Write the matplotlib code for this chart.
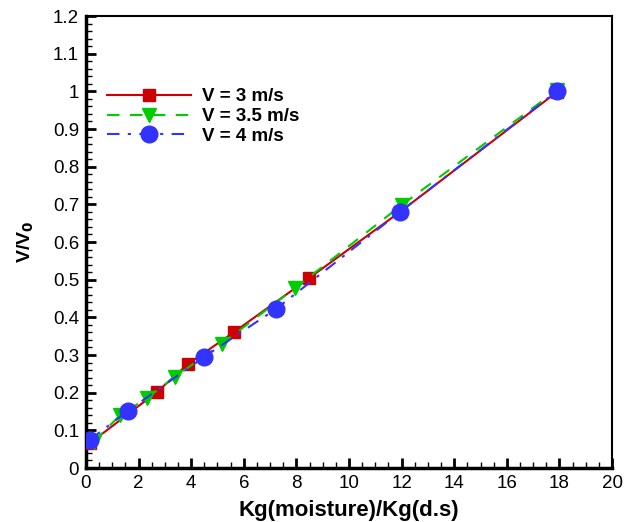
import matplotlib
matplotlib.use("Agg")
import matplotlib.pyplot as plt
from matplotlib.ticker import MultipleLocator

plt.rcParams['font.family'] = ['Liberation Sans', 'DejaVu Sans']

x_v3 = [0.15, 2.7, 3.88, 5.63, 8.48, 11.94, 17.9]
y_v3 = [0.066, 0.202, 0.276, 0.361, 0.504, 0.68, 0.998]

x_v35 = [0.3, 1.29, 2.32, 3.38, 5.17, 7.95, 12.0, 17.9]
y_v35 = [0.07, 0.14, 0.186, 0.242, 0.33, 0.478, 0.698, 1.003]

x_v4 = [0.15, 1.6, 4.49, 7.22, 11.94, 17.9]
y_v4 = [0.075, 0.152, 0.295, 0.422, 0.68, 1.0]

labels = ["V = 3 m/s", "V = 3.5 m/s", "V = 4 m/s"]

fig = plt.figure(figsize=(6.29, 5.22), dpi=100)
ax = fig.add_axes([0.1367, 0.1034, 0.8363, 0.8659])

ax.plot(x_v3, y_v3, '-', color='#cc0000', lw=1.5, marker='s', ms=9,
        mfc='#cc0000', mec='#cc0000', label=labels[0], zorder=3)
ax.plot(x_v35, y_v35, '--', color='#00cc00', lw=1.5, marker='v', ms=9.5,
        mfc='#00cc00', mec='#00cc00', label=labels[1], dashes=(6, 5), zorder=4)
ax.plot(x_v4, y_v4, '-.', color='#3333ff', lw=1.5, marker='o', ms=12,
        mfc='#3333ff', mec='#3333ff', label=labels[2], dashes=(6, 4, 1.5, 4), zorder=5)

ax.set_xlim(0, 20)
ax.set_ylim(0, 1.2)
ax.xaxis.set_major_locator(MultipleLocator(2))
ax.xaxis.set_minor_locator(MultipleLocator(0.5))
ax.yaxis.set_minor_locator(MultipleLocator(0.02))
ax.set_yticks([0, 0.1, 0.2, 0.3, 0.4, 0.5, 0.6, 0.7, 0.8, 0.9, 1.0, 1.1, 1.2])
ax.set_yticklabels(['0', '0.1', '0.2', '0.3', '0.4', '0.5', '0.6', '0.7', '0.8', '0.9', '1', '1.1', '1.2'])

ax.tick_params(which='major', direction='in', length=7, width=2, labelsize=13.5,
               top=False, right=False, pad=5)
ax.tick_params(which='minor', direction='in', length=4, width=1,
               top=False, right=False)
for s in ax.spines.values():
    s.set_linewidth(1.5)
ax.spines['left'].set_linewidth(2.5)
ax.spines['bottom'].set_linewidth(2.5)

ax.set_xlabel('Kg(moisture)/Kg(d.s)', fontsize=16, fontweight='bold', labelpad=6)
ax.set_ylabel('V/V$_\\mathbf{0}$', fontsize=14, fontweight='bold', labelpad=12)

leg = ax.legend(loc='upper left', bbox_to_anchor=(0.008, 0.878), frameon=False,
                prop={'weight': 'bold', 'size': 13.5}, handlelength=4.5,
                handletextpad=0.55, labelspacing=0.15)

fig.savefig('out.png', dpi=100)
